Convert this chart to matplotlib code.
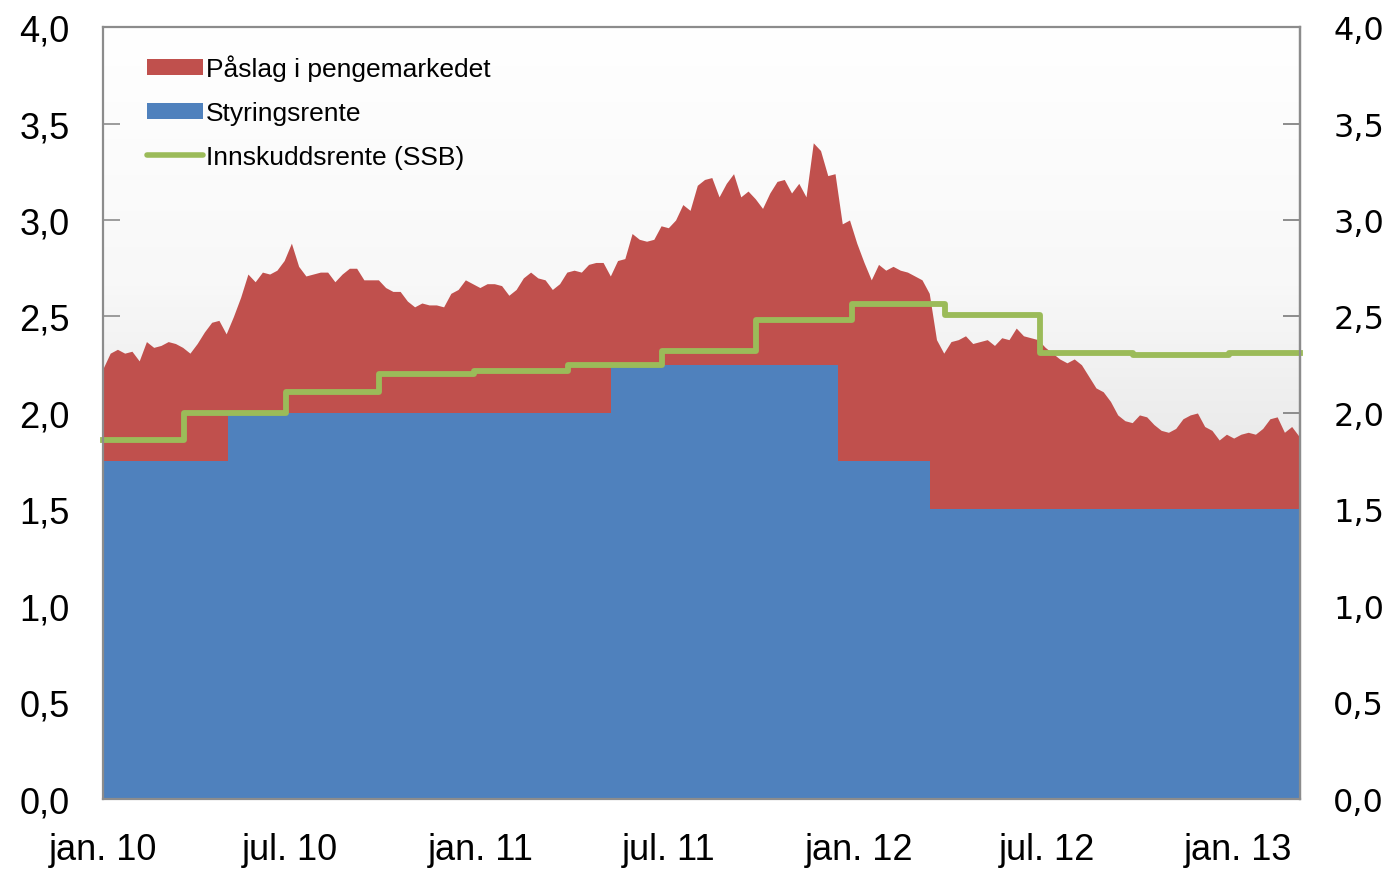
import matplotlib
matplotlib.use("Agg")
import matplotlib.pyplot as plt
from matplotlib.colors import LinearSegmentedColormap
from matplotlib.patches import Patch
from matplotlib.lines import Line2D
import numpy as np
import pandas as pd

# 3-month money market rate, weekly readings starting 1 Jan 2010
nibor_start = "2010-01-01"
nibor = [
    2.23, 2.31, 2.33, 2.31, 2.32, 2.27, 2.37, 2.34, 2.35, 2.37, 2.36, 2.34, 2.31,
    2.36, 2.42, 2.47, 2.48, 2.41, 2.50, 2.60, 2.72, 2.68, 2.73, 2.72, 2.74, 2.79,
    2.88, 2.76, 2.71, 2.72, 2.73, 2.73, 2.68, 2.72, 2.75, 2.75, 2.69, 2.69, 2.69,
    2.65, 2.63, 2.63, 2.58, 2.55, 2.57, 2.56, 2.56, 2.55, 2.62, 2.64, 2.69, 2.67,
    2.65, 2.67, 2.67, 2.66, 2.61, 2.64, 2.70, 2.73, 2.70, 2.69, 2.64, 2.67, 2.73,
    2.74, 2.73, 2.77, 2.78, 2.78, 2.71, 2.79, 2.80, 2.93, 2.90, 2.89, 2.90, 2.97,
    2.96, 3.00, 3.08, 3.05, 3.18, 3.21, 3.22, 3.12, 3.19, 3.24, 3.12, 3.15, 3.11,
    3.06, 3.14, 3.20, 3.21, 3.14, 3.19, 3.12, 3.40, 3.36, 3.23, 3.24, 2.98, 3.00,
    2.88, 2.78, 2.69, 2.77, 2.74, 2.76, 2.74, 2.73, 2.71, 2.69, 2.62, 2.38, 2.31,
    2.37, 2.38, 2.40, 2.36, 2.37, 2.38, 2.35, 2.39, 2.38, 2.44, 2.40, 2.39, 2.38,
    2.34, 2.31, 2.28, 2.26, 2.28, 2.25, 2.19, 2.13, 2.11, 2.06, 1.99, 1.96, 1.95,
    1.99, 1.98, 1.94, 1.91, 1.90, 1.92, 1.97, 1.99, 2.00, 1.93, 1.91, 1.86, 1.89,
    1.87, 1.89, 1.90, 1.89, 1.92, 1.97, 1.98, 1.90, 1.93, 1.88,
]

# Key policy rate and the dates it changed
policy_dates = ["2010-01-01", "2010-05-02", "2011-05-07", "2011-12-12", "2012-03-10"]
policy_rate = [1.75, 2.00, 2.25, 1.75, 1.50]

# Deposit rate from SSB, quarterly
deposit_dates = ["2010-01-01", "2010-03-20", "2010-06-27", "2010-09-25", "2010-12-25",
                 "2011-03-26", "2011-06-25", "2011-09-24", "2011-12-25", "2012-03-24",
                 "2012-06-24", "2012-09-22", "2012-12-23"]
deposit_rate = [1.86, 2.00, 2.11, 2.20, 2.22, 2.25, 2.32, 2.48, 2.565, 2.51,
                2.31, 2.30, 2.31]

end_date = "2013-03-02"

RED = "#C0504D"
BLUE = "#4F81BD"
GREEN = "#9BBB59"
GREY = "#8C8C8C"

weeks = pd.date_range(nibor_start, periods=len(nibor), freq="7D")
end = pd.Timestamp(end_date)

p_dates = list(pd.to_datetime(policy_dates)) + [end]
p_vals = policy_rate + [policy_rate[-1]]
d_dates = list(pd.to_datetime(deposit_dates)) + [end]
d_vals = deposit_rate + [deposit_rate[-1]]

fig = plt.figure(figsize=(13.93, 8.70), dpi=100)
ax = fig.add_axes([0.0739, 0.0805, 0.8593, 0.8873])

# soft grey gradient behind the areas, white at the top
grad = np.linspace(0, 1, 256).reshape(-1, 1)
cmap = LinearSegmentedColormap.from_list("bg", ["#ffffff", "#f8f8f8", "#e2e2e2", "#d0d0d0"])
ax.imshow(grad, extent=[0, 1, 0, 1], transform=ax.transAxes, aspect="auto",
          cmap=cmap, vmin=0, vmax=1, zorder=0, origin="upper")

ax.fill_between(weeks, 0, nibor, color=RED, linewidth=0, zorder=2)
ax.fill_between(p_dates, 0, p_vals, step="post", color=BLUE, linewidth=0, zorder=3)
ax.plot(d_dates, d_vals, drawstyle="steps-post", color=GREEN, linewidth=4.2,
        solid_joinstyle="round", zorder=4, clip_on=False)

ax.set_xlim(pd.Timestamp("2010-01-01"), end)
ax.set_ylim(0, 4)
yticks = np.arange(0, 4.01, 0.5)
ylabels = [f"{v:.1f}".replace(".", ",") for v in yticks]
ax.set_yticks(yticks)
ax.set_yticklabels(ylabels)

xt = pd.to_datetime(["2010-01-01", "2010-07-01", "2011-01-01", "2011-07-01",
                     "2012-01-01", "2012-07-01", "2013-01-01"])
ax.set_xticks(xt)
ax.set_xticklabels(["jan. 10", "jul. 10", "jan. 11", "jul. 11",
                    "jan. 12", "jul. 12", "jan. 13"])

for s in ax.spines.values():
    s.set_color(GREY)
    s.set_linewidth(1.6)
    s.set_zorder(5)

ax.tick_params(axis="y", direction="in", length=12, width=1.2, color=GREY,
               left=True, right=True, labelleft=True, labelright=False, pad=24)
ax.tick_params(axis="x", direction="in", length=12, width=1.2, color=GREY, pad=24)
for lab in ax.get_yticklabels() + ax.get_xticklabels():
    lab.set_fontfamily(["Liberation Sans", "DejaVu Sans"])
    lab.set_fontsize(26)

# right-hand labels in a wider face
ax2 = ax.secondary_yaxis("right")
ax2.set_yticks(yticks)
ax2.set_yticklabels(ylabels, fontfamily="DejaVu Sans", fontsize=23)
ax2.tick_params(direction="in", length=12, width=1.2, color=GREY, pad=24)
ax2.spines["right"].set_color(GREY)
ax2.spines["right"].set_linewidth(1.6)

handles = [Patch(facecolor=RED, edgecolor="none"),
           Patch(facecolor=BLUE, edgecolor="none"),
           Line2D([0], [0], color=GREEN, linewidth=4, solid_capstyle="round")]
labels = ["Påslag i pengemarkedet", "Styringsrente", "Innskuddsrente (SSB)"]
ax.legend(handles, labels, loc="upper left", bbox_to_anchor=(0.037, 0.964),
          frameon=False, prop={"family": "Liberation Sans", "size": 19},
          handlelength=2.1, handleheight=0.55, handletextpad=0.12,
          labelspacing=0.75, borderaxespad=0, borderpad=0)

fig.savefig("out.png", dpi=100)
